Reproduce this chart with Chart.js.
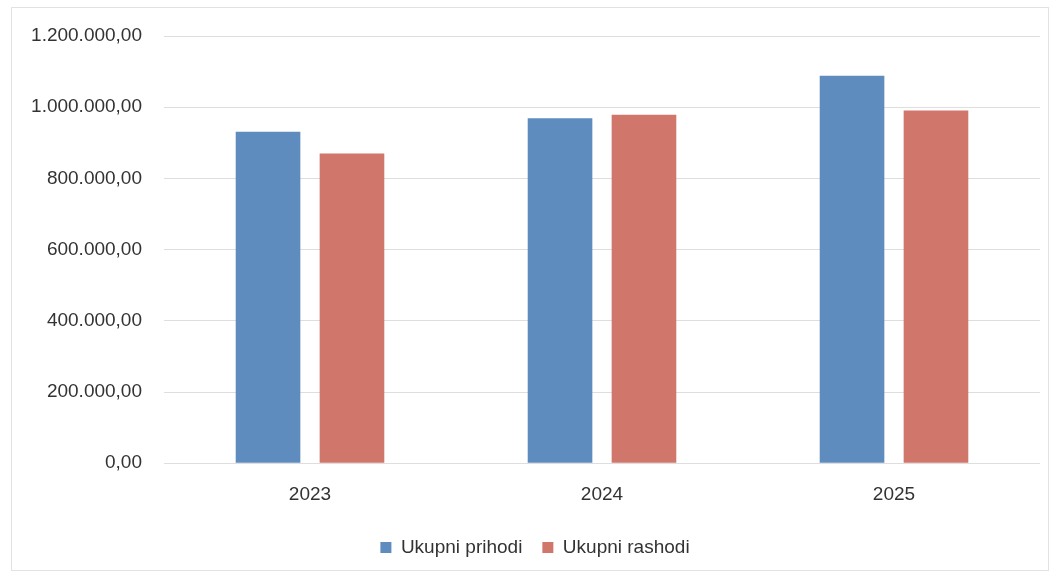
<!DOCTYPE html>
<html>
<head>
<meta charset="utf-8">
<script src="https://cdn.jsdelivr.net/npm/chart.js@4.4.1/dist/chart.umd.min.js"></script>
<style>
  html, body { margin: 0; padding: 0; background: #fff; }
  #frame { position: absolute; left: 11px; top: 7px; width: 1036px; height: 562px; border: 1px solid #e2e2e2; }
  #wrap { position: absolute; left: 0; top: 0; width: 1058px; height: 578px; }
</style>
</head>
<body>
<div id="frame"></div>
<div id="wrap"><canvas id="chart"></canvas></div>
<script>
const years = ['2023', '2024', '2025'];
const prihodi = [931000, 969000, 1088000];
const rashodi = [870000, 979000, 991000];

const fmt = (v) => {
    const s = Math.round(v).toString().replace(/\B(?=(\d{3})+(?!\d))/g, '.');
    return s + ',00';
};

const font = { family: '"Liberation Sans", Arial, sans-serif', size: 19 };

new Chart(document.getElementById('chart'), {
    type: 'bar',
    data: {
        labels: years,
        datasets: [
            { label: 'Ukupni prihodi', data: prihodi, backgroundColor: '#5f8cbf' },
            { label: 'Ukupni rashodi', data: rashodi, backgroundColor: '#d0766b' }
        ]
    },
    options: {
        responsive: true,
        maintainAspectRatio: false,
        animation: false,
        categoryPercentage: 0.575,
        barPercentage: 0.77,
        layout: { padding: { left: 30, right: 18, top: 36, bottom: 11 } },
        plugins: {
            tooltip: { enabled: false },
            legend: {
                position: 'bottom',
                labels: { font, color: '#333', boxWidth: 11, boxHeight: 11, padding: 20 }
            }
        },
        scales: {
            x: {
                grid: { display: false },
                border: { display: false },
                ticks: { font, color: '#333', padding: 12 }
            },
            y: {
                min: 0, max: 1200000,
                afterFit: (s) => { s.width = 134; },
                grid: { color: '#dedede', drawTicks: false },
                border: { display: false },
                ticks: { stepSize: 200000, font, color: '#333', padding: 22, callback: fmt }
            }
        }
    }
});
</script>
</body>
</html>
